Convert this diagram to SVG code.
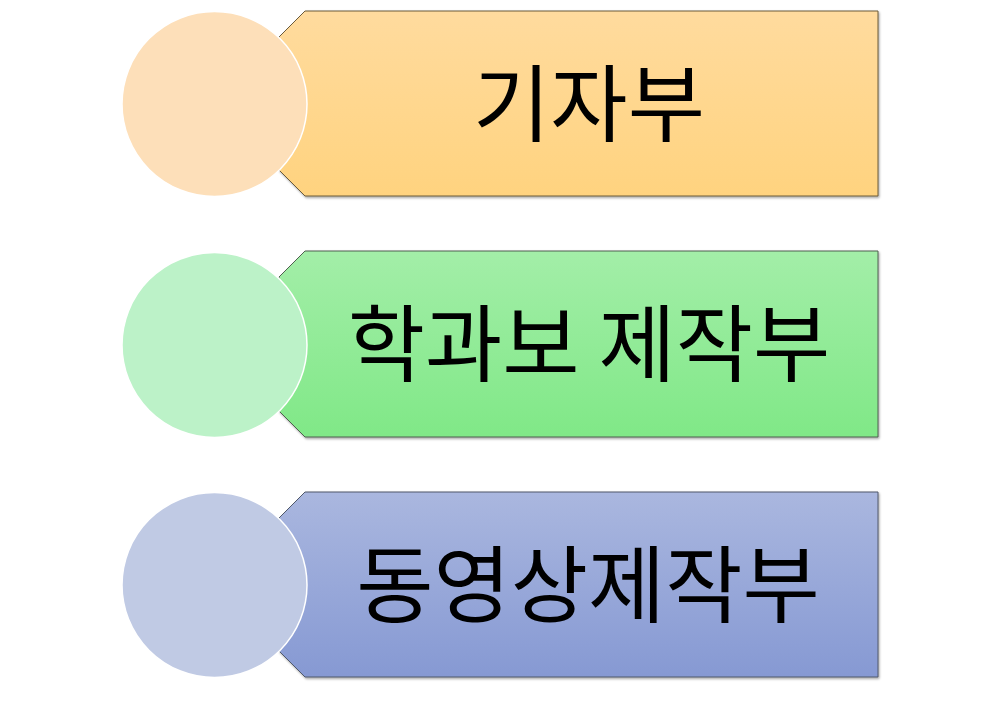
<svg xmlns="http://www.w3.org/2000/svg" width="1000" height="715" viewBox="0 0 1000 715">
<defs>
<linearGradient id="gO" x1="0" y1="0" x2="0" y2="1"><stop offset="0" stop-color="#FFDB9E"/><stop offset="1" stop-color="#FFD37F"/></linearGradient>
<linearGradient id="gG" x1="0" y1="0" x2="0" y2="1"><stop offset="0" stop-color="#A3EEA8"/><stop offset="1" stop-color="#80E887"/></linearGradient>
<linearGradient id="gB" x1="0" y1="0" x2="0" y2="1"><stop offset="0" stop-color="#AAB7DF"/><stop offset="1" stop-color="#8699D3"/></linearGradient>
<filter id="sh" x="-5%" y="-5%" width="110%" height="115%"><feDropShadow dx="1" dy="1.5" stdDeviation="0.8" flood-color="#000" flood-opacity="0.35"/></filter>
</defs>
<style>
.tab{stroke-width:1;filter:url(#sh)}
.circ{stroke:#ffffff;stroke-width:1.5}
.lbl{font-family:"Noto Sans CJK KR","Noto Sans",sans-serif;font-size:84px;fill:#000;text-anchor:middle}
</style>
<rect width="1000" height="715" fill="#fff"/>
<g id="node1">
<path class="tab" d="M305,11 H878 V196 H305 L279,170 V37 Z" fill="url(#gO)" stroke="#6b5a3a"/>
<circle class="circ" cx="214.5" cy="104" r="92.5" fill="#FDDFB9"/>
<text class="lbl" x="589" y="135">기자부</text>
</g>
<g id="node2">
<path class="tab" d="M305,251 H878 V437 H305 L279,411 V277 Z" fill="url(#gG)" stroke="#4f5f50"/>
<circle class="circ" cx="214.5" cy="345" r="92.5" fill="#BCF2C8"/>
<text class="lbl" x="589" y="375">학과보 제작부</text>
</g>
<g id="node3">
<path class="tab" d="M305,492 H878 V677 H305 L279,651 V518 Z" fill="url(#gB)" stroke="#50586a"/>
<circle class="circ" cx="214.5" cy="585" r="92.5" fill="#C0CAE4"/>
<text class="lbl" x="588" y="616">동영상제작부</text>
</g>
<g id="connectors"></g>
</svg>
